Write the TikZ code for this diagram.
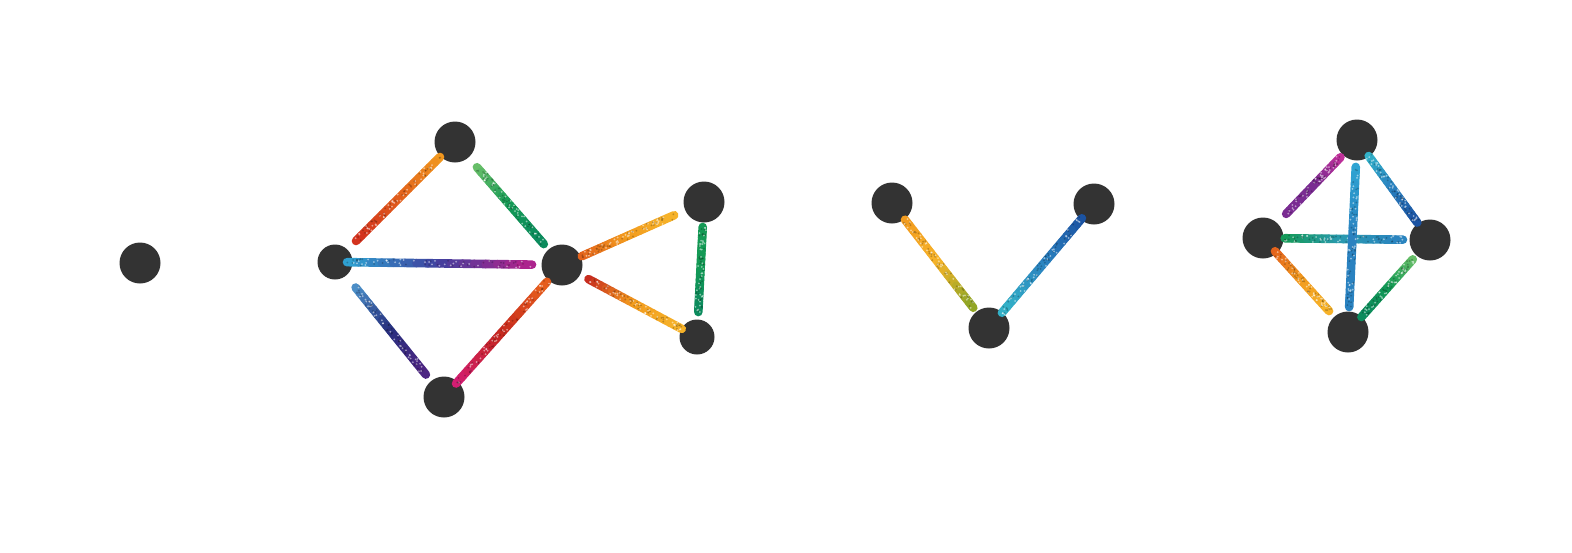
\documentclass[tikz,border=0pt]{standalone}
\usetikzlibrary{calc}

\definecolor{dotgrey}{HTML}{333333}
\definecolor{orangeA}{HTML}{F29A1E}
\definecolor{midorange}{HTML}{E2601C}
\definecolor{redA}{HTML}{D2301E}
\definecolor{redB}{HTML}{C4261E}
\definecolor{orangeB}{HTML}{E8601C}
\definecolor{yellowA}{HTML}{F6B42A}
\definecolor{oliveA}{HTML}{8AA526}
\definecolor{greenL}{HTML}{6CC06A}
\definecolor{greenA}{HTML}{149A55}
\definecolor{greenD}{HTML}{0B8A5E}
\definecolor{cyanA}{HTML}{2EA6D4}
\definecolor{cyanB}{HTML}{33B4C8}
\definecolor{tealA}{HTML}{2A9AB0}
\definecolor{blueL}{HTML}{4E94CC}
\definecolor{blueM}{HTML}{2A82C0}
\definecolor{blueD}{HTML}{1A50A0}
\definecolor{navyA}{HTML}{27307E}
\definecolor{indigoA}{HTML}{40409E}
\definecolor{purpA}{HTML}{4F2482}
\definecolor{purpB}{HTML}{7A2C92}
\definecolor{magA}{HTML}{B4228C}
\definecolor{magB}{HTML}{C4309A}
\definecolor{pinkA}{HTML}{D41E78}

\begin{document}
\begin{tikzpicture}[
  x=0.5pt, y=-0.5pt,
  line cap=round,
  dot/.style={circle, fill=dotgrey, inner sep=0pt, minimum size=20.5pt},
  small dot/.style={dot, minimum size=17.5pt},
  streak/.style={line width=4.3pt},
  fleck/.style={fill=white, opacity=0.5},
  grit/.style={fill=black, opacity=0.22},
]
\useasboundingbox (0,0) rectangle (1572,552);

% ── the lone vertex ───────────────────────────────────────────────────────
\node[dot] (solo) at (140,263) {};

% ── the bow tie ───────────────────────────────────────────────────────────
\node[dot]       (apex)  at (455,142) {};
\node[small dot] (west)  at (335,262) {};
\node[dot]       (hub)   at (562,265) {};
\node[dot]       (base)  at (444,397) {};
\node[dot]       (wingN) at (704,202) {};
\node[small dot] (wingS) at (697,337) {};

% ── the V ─────────────────────────────────────────────────────────────────
\node[dot] (vleft)  at (892,203) {};
\node[dot] (vright) at (1094,204) {};
\node[dot] (vbase)  at (989,328) {};

% ── the kite ──────────────────────────────────────────────────────────────
\node[dot] (ktop)  at (1357,140) {};
\node[dot] (kwest) at (1263,238) {};
\node[dot] (keast) at (1430,240) {};
\node[dot] (kbase) at (1348,332) {};

% ── the glitter strokes: from/to, where they start and stop, three colours ─
\pgfmathsetseed{4}
\foreach \a/\b/\s/\e/\ca/\cb/\cc in {%
  apex/west/0.125/0.825/orangeA/midorange/redA,
  apex/hub/0.205/0.83/greenL/greenA/greenD,
  west/hub/0.053/0.868/cyanA/indigoA/magA,
  west/base/0.189/0.834/blueL/navyA/purpA,
  base/hub/0.102/0.873/pinkA/redB/orangeB,
  hub/wingN/0.139/0.79/midorange/orangeA/yellowA,
  hub/wingS/0.196/0.887/redB/orangeA/yellowA,
  wingN/wingS/0.185/0.815/greenA/greenA/greenD,
  vleft/vbase/0.134/0.838/orangeA/yellowA/oliveA,
  vright/vbase/0.115/0.877/blueD/blueM/cyanB,
  ktop/kwest/0.176/0.754/magB/purpB/purpB,
  ktop/keast/0.16/0.826/cyanB/blueM/blueD,
  kwest/keast/0.13/0.838/greenA/tealA/blueM,
  ktop/kbase/0.14/0.87/cyanA/blueM/blueM,
  kwest/kbase/0.141/0.777/midorange/orangeA/yellowA,
  keast/kbase/0.21/0.837/greenL/greenA/greenD%
} {
  \foreach \i in {0,...,15} {
    \pgfmathsetmacro\p{\s+(\e-\s)*\i/16}
    \pgfmathsetmacro\q{\s+(\e-\s)*(\i+1)/16}
    \pgfmathsetmacro\u{(\i+0.5)/16}
    \ifdim\u pt<0.5pt
      \pgfmathtruncatemacro\m{\u*200}
      \colorlet{glint}{\cb!\m!\ca}
    \else
      \pgfmathtruncatemacro\m{(\u-0.5)*200}
      \colorlet{glint}{\cc!\m!\cb}
    \fi
    \draw[streak, draw=glint] ($(\a)!\p!(\b)$) -- ($(\a)!\q!(\b)$);
  }
  \foreach \k in {1,...,40} {
    \pgfmathsetmacro\t{\s+(\e-\s)*rnd}
    \pgfmathsetmacro\o{(rnd-0.5)*3.4}
    \fill[fleck] ($(\a)!\t!(\b)!\o pt!90:(\b)$) circle (1);
    \pgfmathsetmacro\t{\s+(\e-\s)*rnd}
    \pgfmathsetmacro\o{(rnd-0.5)*3.4}
    \fill[grit] ($(\a)!\t!(\b)!\o pt!90:(\b)$) circle (1);
  }
}

\end{tikzpicture}
\end{document}
